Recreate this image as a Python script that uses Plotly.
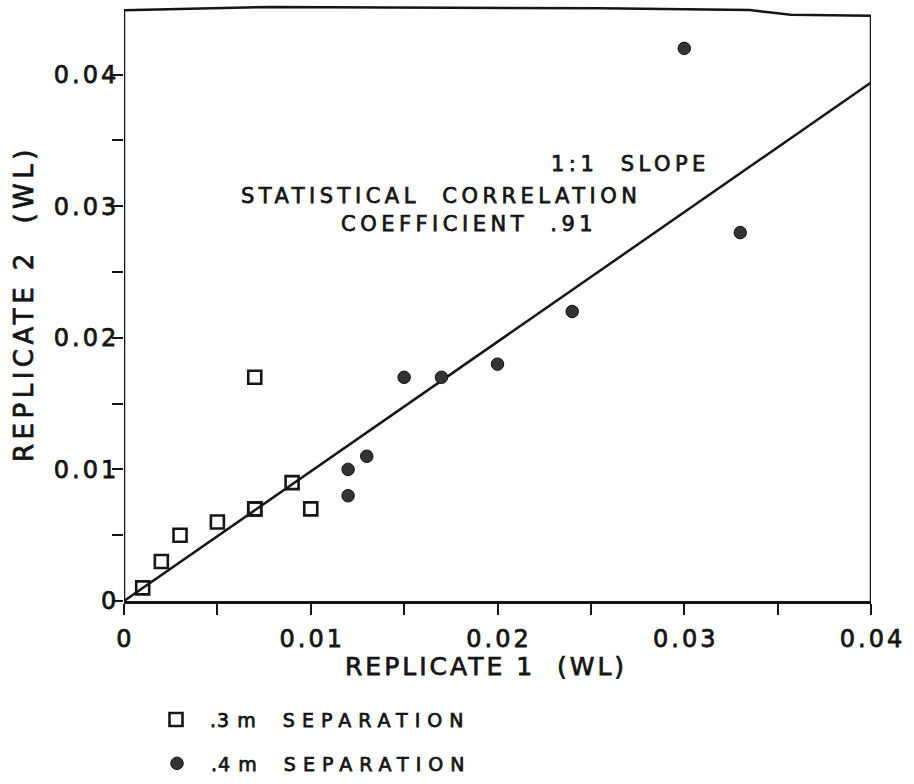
import plotly.graph_objects as go

# ---------------- data ----------------
sep03_x = [0.001, 0.002, 0.003, 0.005, 0.007, 0.007, 0.007, 0.009, 0.010]
sep03_y = [0.001, 0.003, 0.005, 0.006, 0.017, 0.007, 0.007, 0.009, 0.007]
sep04_x = [0.012, 0.012, 0.013, 0.015, 0.017, 0.020, 0.024, 0.030, 0.033]
sep04_y = [0.010, 0.008, 0.011, 0.017, 0.017, 0.018, 0.022, 0.042, 0.028]
slope_x = [0.0, 0.04]
slope_y = [0.0, 0.0394]
frame_x = [0.0, 0.0, 0.0078, 0.0255, 0.0335, 0.0357, 0.04, 0.04]
frame_y = [0.0, 0.0449, 0.04515, 0.04504, 0.04492, 0.04455, 0.04447, 0.0]
tick_vals = [0, 0.005, 0.01, 0.015, 0.02, 0.025, 0.03, 0.035, 0.04]
tick_text = ["0", "", "0.01", "", "0.02", "", "0.03", "", "0.04"]
legend_names = [(".3", "m", "SEPARATION"), (".4", "m", "SEPARATION")]

FONT = "DejaVu Sans"
INK = "#151515"
NB = "\u00a0"

W, H = 914, 784
ML, MR, MT, MB = 124, 43, 1, 181
PW, PH = W - ML - MR, H - MT - MB


def sp(text, px, stroke=0.75):
    return (f'<span style="letter-spacing:{px}px;stroke:{INK};'
            f'stroke-width:{stroke}px">{text}</span>')


def tick_label(t, px):
    if not t:
        return ""
    return sp(t[:-1], px) + sp(t[-1], 0)


def paper_x(px):
    return (px - ML) / PW


def paper_y(py):
    return (H - MB - py) / PH


def legend_label(parts):
    a, b, c = parts
    return sp(NB + NB + a + NB + b, 1) + sp(NB + NB + c, 7)


fig = go.Figure()

fig.add_trace(go.Scatter(x=frame_x, y=frame_y, mode="lines",
                         line=dict(color=INK, width=2.5), showlegend=False,
                         hoverinfo="skip", cliponaxis=False))
fig.add_trace(go.Scatter(x=slope_x, y=slope_y, mode="lines",
                         line=dict(color=INK, width=2.5), showlegend=False,
                         hoverinfo="skip", cliponaxis=False))
fig.add_trace(go.Scatter(x=sep03_x, y=sep03_y, mode="markers",
                         name=legend_label(legend_names[0]),
                         marker=dict(symbol="square-open", size=13,
                                     color=INK, line=dict(width=2.6, color=INK)),
                         legend="legend", cliponaxis=False))
fig.add_trace(go.Scatter(x=sep04_x, y=sep04_y, mode="markers",
                         name=legend_label(legend_names[1]),
                         marker=dict(symbol="circle", size=12.5,
                                     color="#333333", line=dict(width=1, color="#111111")),
                         legend="legend2", cliponaxis=False))

axis_common = dict(
    tickvals=tick_vals,
    ticks="outside", ticklen=11, tickwidth=2.2, tickcolor=INK,
    showgrid=False, zeroline=False,
    tickfont=dict(family=FONT, size=24, color=INK),
)

fig.update_xaxes(range=[0, 0.04], ticktext=[tick_label(t, 3) for t in tick_text],
                 showline=True, linecolor=INK, linewidth=2.5,
                 ticklabelstandoff=3, **axis_common)
fig.update_yaxes(range=[0, 0.0456], ticktext=[tick_label(t, 3) for t in tick_text],
                 showline=False, ticklabelstandoff=-9, **axis_common)

ann = []
ann.append(dict(text=sp("REPLICATE 1  (WL)", 3), xref="paper", yref="paper",
                x=paper_x(486), y=paper_y(669), showarrow=False,
                xanchor="center", yanchor="middle",
                font=dict(family=FONT, size=25, color=INK)))
ann.append(dict(text=sp("REPLICATE 2  (WL)", 4.5), xref="paper", yref="paper",
                x=paper_x(24), y=paper_y(305), showarrow=False, textangle=-90,
                xanchor="center", yanchor="middle",
                font=dict(family=FONT, size=26, color=INK)))
for txt, cx, cy in [("1:1  SLOPE", 630, 165),
                    ("STATISTICAL  CORRELATION", 441, 197),
                    ("COEFFICIENT  .91", 469, 225)]:
    ann.append(dict(text=sp(txt, 4.5), xref="paper", yref="paper",
                    x=paper_x(cx), y=paper_y(cy), showarrow=False,
                    xanchor="center", yanchor="middle",
                    font=dict(family=FONT, size=21, color=INK)))

legend_common = dict(xref="paper", yref="paper", xanchor="left", yanchor="middle",
                     bgcolor="rgba(0,0,0,0)", borderwidth=0,
                     font=dict(family=FONT, size=19, color=INK))

fig.update_layout(
    width=W, height=H,
    margin=dict(l=ML, r=MR, t=MT, b=MB, pad=0),
    paper_bgcolor="white", plot_bgcolor="white",
    annotations=ann,
    showlegend=True,
    legend=dict(x=paper_x(156), y=paper_y(722), **legend_common),
    legend2=dict(x=paper_x(157), y=paper_y(766), **legend_common),
)

fig.write_html("out.html")
